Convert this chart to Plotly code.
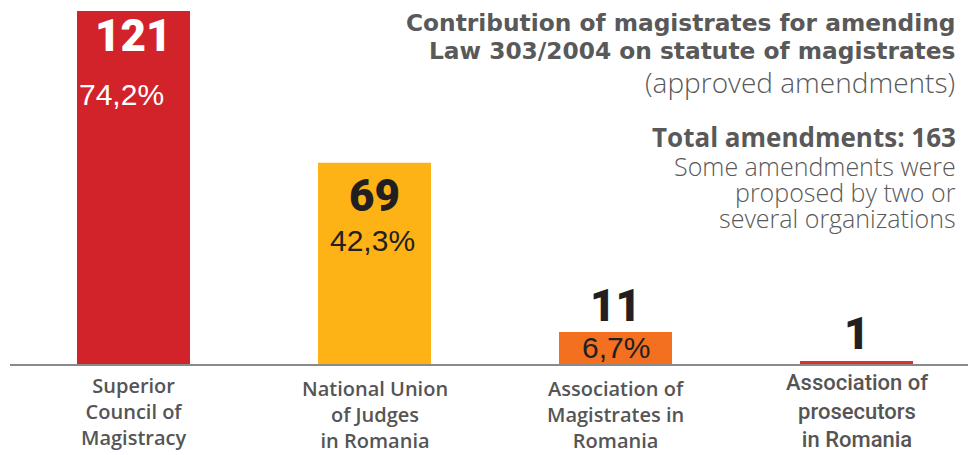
import plotly.graph_objects as go

categories = ["Superior<br>Council of<br>Magistracy",
              "National Union<br>of Judges<br>in Romania",
              "Association of<br>Magistrates in<br>Romania",
              "Association of<br>prosecutors<br>in Romania"]
counts = [121, 69, 11, 1]
percents = ["74,2%", "42,3%", "6,7%", ""]
colors = ["#D2232A", "#FDB316", "#F37021", "#D9322B"]

title_lines = ["Contribution of magistrates for amending",
               "Law 303/2004 on statute of magistrates"]
subtitle = "(approved amendments)"
total_text = "Total amendments: 163"
note_lines = ["Some amendments were", "proposed by two or", "several organizations"]

W, H = 968, 455
L, R, T, B = 10, 0, 0, 91
pw, ph = W - L - R, H - T - B
px_per_cat = 241.0
x0_center = 133.5
xmin = -(x0_center - L) / px_per_cat
xmax = xmin + pw / px_per_cat
px_per_unit = 353 / 121.0
ymax = ph / px_per_unit

xs = list(range(len(categories)))
fig = go.Figure()
fig.add_trace(go.Bar(x=xs, y=counts, marker=dict(color=colors, line=dict(width=0)),
                     width=113 / px_per_cat, hoverinfo="skip"))

ann = []
heavy = "Roboto"
count_shift = [-25, -33, 26, 27]
count_color = ["#FFFFFF", "#231F20", "#231F20", "#231F20"]
pct_shift = [-83, -78, None, None]
pct_xshift = [-12, -2, 0, 0]
pct_color = ["#FFFFFF", "#231F20", "#231F20", "#231F20"]
for i, (c, p) in enumerate(zip(counts, percents)):
    ann.append(dict(x=i, y=c, xref="x", yref="y", text=str(c), showarrow=False,
                    yshift=count_shift[i], yanchor="middle",
                    font=dict(family=heavy, size=44, color=count_color[i], weight=900)))
    if p:
        if pct_shift[i] is None:
            yy, ys = c / 2, 0
        else:
            yy, ys = c, pct_shift[i]
        ann.append(dict(x=i, y=yy, xref="x", yref="y", text=p, showarrow=False,
                        yshift=ys, xshift=pct_xshift[i], yanchor="middle",
                        font=dict(family="Liberation Sans", size=30, color=pct_color[i])))

def py(pix):
    return (H - B - pix) / ph

def pxp(pix):
    return (pix - L) / pw

# category labels
cat_top = [371, 374, 374, 369]
cat_size = [20, 20, 20, 22]
cat_family = ["Open Sans", "Open Sans", "Open Sans", "Roboto"]
cat_weight = [600, 600, 600, 500]
for i, cat in enumerate(categories):
    ann.append(dict(x=i, y=py(cat_top[i]), xref="x", yref="paper", text=cat, showarrow=False,
                    yanchor="top", align="center", borderpad=0,
                    font=dict(family=cat_family[i], size=cat_size[i], color="#555555",
                              weight=cat_weight[i])))

gray = "#595959"
ann.append(dict(x=pxp(957), y=py(22), xref="paper", yref="paper", xanchor="right",
                yanchor="middle", showarrow=False, text=title_lines[0],
                font=dict(family="DejaVu Sans", size=23.3, color=gray, weight=700)))
ann.append(dict(x=pxp(957), y=py(51), xref="paper", yref="paper", xanchor="right",
                yanchor="middle", showarrow=False, text=title_lines[1],
                font=dict(family="DejaVu Sans", size=23.3, color=gray, weight=700)))
ann.append(dict(x=pxp(957), y=py(82), xref="paper", yref="paper", xanchor="right",
                yanchor="middle", showarrow=False, text=subtitle,
                font=dict(family="Open Sans", size=28, color=gray, weight=300)))
ann.append(dict(x=pxp(957), y=py(137), xref="paper", yref="paper", xanchor="right",
                yanchor="middle", showarrow=False, text=total_text, borderpad=0,
                font=dict(family="Open Sans", size=26, color=gray, weight=700)))
for k, line in enumerate(note_lines):
    ann.append(dict(x=pxp(957), y=py(166 + 26 * k), xref="paper", yref="paper",
                    xanchor="right", yanchor="middle", showarrow=False, text=line,
                    borderpad=0,
                    font=dict(family="Open Sans", size=25, color=gray, weight=300)))

fig.update_layout(
    width=W, height=H, margin=dict(l=L, r=R, t=T, b=B),
    paper_bgcolor="white", plot_bgcolor="white", showlegend=False,
    xaxis=dict(range=[xmin, xmax], showticklabels=False, showgrid=False, zeroline=False,
               showline=True, linecolor="#8a8a8a", linewidth=1.5, ticks=""),
    yaxis=dict(range=[0, ymax], visible=False, showgrid=False, zeroline=False),
    annotations=ann,
)
fig.write_html("out.html")
